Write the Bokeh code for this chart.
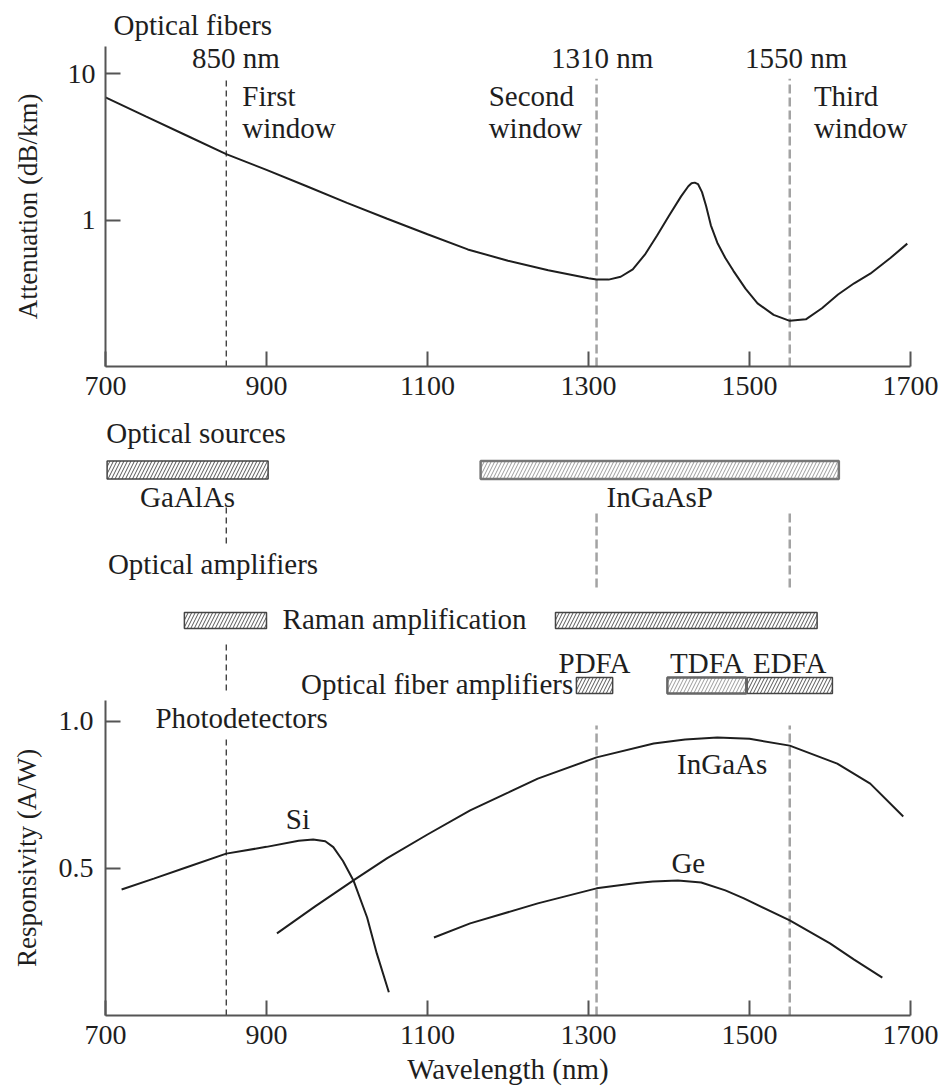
from bokeh.plotting import figure
from bokeh.layouts import column
from bokeh.models import Range1d, FixedTicker, PrintfTickFormatter
from bokeh.embed import file_html
from bokeh.resources import INLINE
from bokeh.core.properties import value

FONT = "Liberation Serif"
TXT = "29px"
TICK = "28px"
INK = "#1e1e1e"
AXC = "#555555"

# ---------------- data ----------------
# attenuation of silica fibre (nm, dB/km)
att_nm = [700, 750, 800, 850, 900, 950, 1000, 1050, 1100, 1150, 1200, 1250, 1300, 1310,
          1325, 1340, 1355, 1370, 1385, 1400, 1415, 1424, 1428, 1432, 1436, 1441, 1446,
          1452, 1460, 1470, 1480, 1495, 1510, 1530, 1550, 1570, 1590, 1610, 1630, 1650,
          1675, 1696]
att_db = [6.87, 5.10, 3.79, 2.82, 2.20, 1.70, 1.31, 1.02, 0.80, 0.63, 0.527, 0.454, 0.401, 0.392,
          0.392, 0.41, 0.46, 0.58, 0.78, 1.07, 1.45, 1.70, 1.78, 1.80, 1.76, 1.55, 1.25,
          0.92, 0.70, 0.55, 0.45, 0.34, 0.27, 0.225, 0.205, 0.21, 0.25, 0.31, 0.37, 0.43,
          0.55, 0.69]

windows_nm = [850, 1310, 1550]
window_labels = ["850 nm", "1310 nm", "1550 nm"]
window_names = ["First", "Second", "Third"]

# optical sources (nm ranges)
src_names = ["GaAlAs", "InGaAsP"]
src_lo = [702, 1166]
src_hi = [902, 1611]

# Raman amplification bands
raman_lo = [798, 1259]
raman_hi = [900, 1584]

# optical fibre amplifiers
amp_names = ["PDFA", "TDFA", "EDFA"]
amp_lo = [1285, 1398, 1497]
amp_hi = [1330, 1496, 1603]

# responsivity (nm, A/W)
si_nm = [720, 760, 800, 850, 900, 940, 958, 973, 983, 995, 1008, 1025, 1037, 1052]
si_r = [0.428, 0.465, 0.503, 0.550, 0.573, 0.594, 0.598, 0.592, 0.572, 0.525, 0.459, 0.333, 0.211, 0.079]
ingaas_nm = [913, 960, 1008, 1050, 1100, 1153, 1200, 1237, 1310, 1381, 1420, 1460, 1500, 1550, 1609, 1650, 1691]
ingaas_r = [0.279, 0.370, 0.459, 0.535, 0.615, 0.697, 0.757, 0.805, 0.877, 0.924, 0.938, 0.945, 0.940, 0.917, 0.856, 0.788, 0.676]
ge_nm = [1108, 1153, 1237, 1310, 1360, 1380, 1411, 1440, 1470, 1493, 1550, 1600, 1630, 1665]
ge_r = [0.265, 0.313, 0.381, 0.432, 0.450, 0.455, 0.459, 0.452, 0.425, 0.398, 0.323, 0.245, 0.19, 0.129]

x_ticks = [700, 900, 1100, 1300, 1500, 1700]

# ---------------- layout ----------------
W = 940
LB, RB = 105, 30
x_range = Range1d(700, 1700)


def base_style(p):
    p.outline_line_color = None
    p.xgrid.visible = False
    p.ygrid.visible = False
    p.background_fill_color = "white"
    p.border_fill_color = "white"


def axis_style(ax):
    ax.axis_line_color = AXC
    ax.axis_line_width = 2
    ax.major_tick_line_color = AXC
    ax.major_tick_line_width = 2
    ax.major_tick_in = 15
    ax.major_tick_out = 0
    ax.minor_tick_line_color = None
    ax.major_label_text_font = FONT
    ax.major_label_text_font_size = TICK
    ax.major_label_text_color = INK
    ax.axis_label_text_font = FONT
    ax.axis_label_text_font_style = "normal"
    ax.axis_label_text_color = INK


def txt(p, xs, ys, texts, align="left", size=TXT):
    p.text(x=xs, y=ys, text=texts, text_font=value(FONT), text_font_size=value(size),
           text_color=INK, text_align=align, text_baseline="alphabetic")


# ---- top: attenuation ----
p1 = figure(width=W, height=416, x_range=x_range, y_range=Range1d(0.1, 15.3),
            y_axis_type="log", output_backend="svg", toolbar_location=None,
            min_border_left=LB, min_border_right=RB, min_border_top=45, min_border_bottom=50)
base_style(p1)
p1.title.text = "Optical fibers"
p1.title.text_font = FONT
p1.title.text_font_size = TXT
p1.title.text_font_style = "normal"
p1.title.text_color = INK
p1.title.align = "left"
p1.title.offset = 8
p1.title.standoff = 12
axis_style(p1.xaxis[0])
axis_style(p1.yaxis[0])
p1.xaxis.ticker = FixedTicker(ticks=x_ticks)
p1.yaxis.ticker = FixedTicker(ticks=[1, 10])
p1.yaxis.formatter = PrintfTickFormatter(format="%d")
p1.xaxis.major_label_standoff = 10
p1.yaxis.major_label_standoff = 10
p1.yaxis.axis_label = "Attenuation (dB/km)"
p1.yaxis.axis_label_text_font_size = "27px"
p1.yaxis.axis_label_standoff = 22

p1.segment(x0=windows_nm[:1], y0=[0.1], x1=windows_nm[:1], y1=[9.5],
           line_color="#222222", line_width=1.2, line_dash="6 4")
p1.segment(x0=windows_nm[1:], y0=[0.1, 0.1], x1=windows_nm[1:], y1=[9.2, 9.2],
           line_color="#a3a3a3", line_width=2.5, line_dash="9 4")
p1.line(att_nm, att_db, line_color=INK, line_width=2)

txt(p1, [862, 1317, 1558], [12.8] * 3, window_labels, align="center")
txt(p1, [870, 1176, 1580], [7.06] * 3, window_names)
txt(p1, [870, 1176, 1580], [4.28] * 3, ["window"] * 3)

# ---- middle: sources and amplifiers ----
p2 = figure(width=W, height=284, x_range=x_range, y_range=Range1d(0, 284),
            x_axis_location=None, y_axis_location=None,
            output_backend="svg", toolbar_location=None,
            min_border_left=LB, min_border_right=RB, min_border_top=0, min_border_bottom=0)
base_style(p2)

bar_kw = dict(fill_color="white", hatch_pattern="/", hatch_scale=7, hatch_weight=1)
# sources
p2.quad(left=src_lo[:1], right=src_hi[:1], bottom=221.5, top=239.5,
        hatch_color="#555555", line_color="#444444", line_width=1.5, **bar_kw)
p2.quad(left=src_lo[1:], right=src_hi[1:], bottom=221.5, top=239.5,
        hatch_color="#9a9a9a", line_color="#777777", line_width=2.5, **bar_kw)
txt(p2, [701], [268], ["Optical sources"])
txt(p2, [(a + b) / 2 for a, b in zip(src_lo, src_hi)], [204, 204], src_names, align="center")

# window markers crossing the middle panel
p2.segment(x0=windows_nm[:1] * 2, y0=[157, 10], x1=windows_nm[:1] * 2, y1=[193, 60],
           line_color="#222222", line_width=1.2, line_dash="6 4")
p2.segment(x0=windows_nm[1:], y0=[113, 113], x1=windows_nm[1:], y1=[190, 190],
           line_color="#a3a3a3", line_width=2.5, line_dash="9 4")

txt(p2, [703], [137], ["Optical amplifiers"])
# Raman
p2.quad(left=raman_lo, right=raman_hi, bottom=72, top=88,
        hatch_color="#555555", line_color="#444444", line_width=1.5, **bar_kw)
txt(p2, [920], [82], ["Raman amplification"])
# fibre amplifiers
p2.quad(left=[amp_lo[0], amp_lo[2]], right=[amp_hi[0], amp_hi[2]], bottom=7, top=23,
        hatch_color="#555555", line_color="#444444", line_width=1.5, **bar_kw)
p2.quad(left=[amp_lo[1]], right=[amp_hi[1]], bottom=7, top=23,
        hatch_color="#9a9a9a", line_color="#666666", line_width=2.5, **bar_kw)
txt(p2, [(a + b) / 2 for a, b in zip(amp_lo, amp_hi)], [38] * 3, amp_names, align="center")
txt(p2, [1281], [17], ["Optical fiber amplifiers"], align="right")

# ---- bottom: responsivity ----
p3 = figure(width=W, height=387, x_range=x_range, y_range=Range1d(0, 1.0703),
            output_backend="svg", toolbar_location=None,
            min_border_left=LB, min_border_right=RB, min_border_top=0, min_border_bottom=72)
base_style(p3)
axis_style(p3.xaxis[0])
axis_style(p3.yaxis[0])
p3.xaxis.ticker = FixedTicker(ticks=x_ticks)
p3.yaxis.ticker = FixedTicker(ticks=[0.5, 1.0])
p3.yaxis.formatter = PrintfTickFormatter(format="%.1f")
p3.xaxis.major_label_standoff = 10
p3.yaxis.major_label_standoff = 12
p3.xaxis.axis_label = "Wavelength (nm)"
p3.xaxis.axis_label_text_font_size = TXT
p3.xaxis.axis_label_standoff = 6
p3.yaxis.axis_label = "Responsivity (A/W)"
p3.yaxis.axis_label_text_font_size = "27px"
p3.yaxis.axis_label_standoff = 14

p3.segment(x0=windows_nm[:1], y0=[0], x1=windows_nm[:1], y1=[0.941],
           line_color="#222222", line_width=1.2, line_dash="6 4")
p3.segment(x0=windows_nm[1:], y0=[0, 0], x1=windows_nm[1:], y1=[0.985, 0.985],
           line_color="#a3a3a3", line_width=2.5, line_dash="9 4")
p3.line(si_nm, si_r, line_color=INK, line_width=2)
p3.line(ingaas_nm, ingaas_r, line_color=INK, line_width=2)
p3.line(ge_nm, ge_r, line_color=INK, line_width=2)

txt(p3, [762], [1.010], ["Photodetectors"])
txt(p3, [939, 1466, 1424], [0.666, 0.853, 0.517], ["Si", "InGaAs", "Ge"], align="center")

layout = column(p1, p2, p3, spacing=0)
open("out.html", "w").write(file_html(layout, INLINE))
